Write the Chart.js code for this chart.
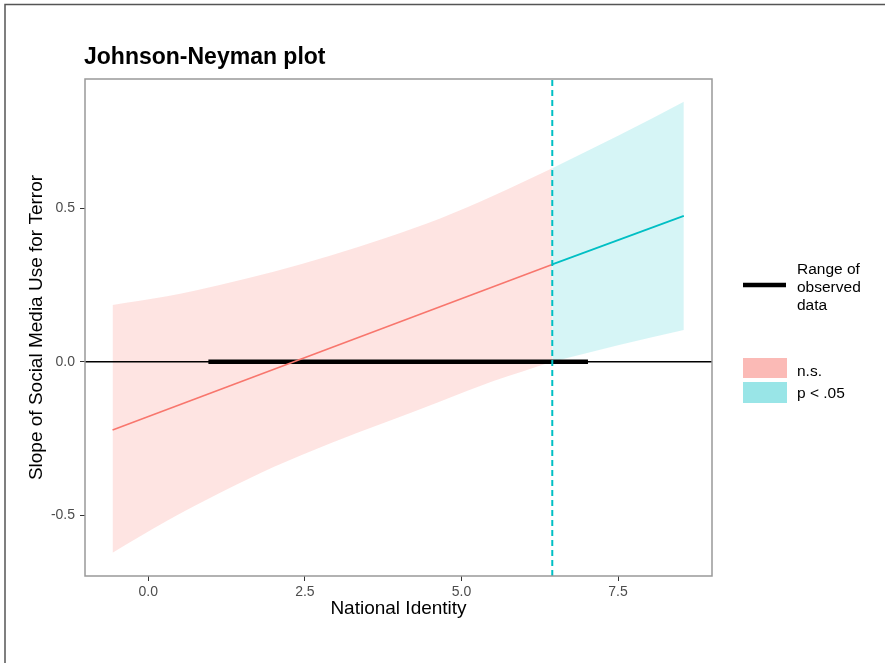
<!DOCTYPE html>
<html>
<head>
<meta charset="utf-8">
<script src="https://cdn.jsdelivr.net/npm/chart.js@4.4.1/dist/chart.umd.min.js"></script>
<style>
  body { margin: 0; background: #fff; }
  canvas { display: block; }
</style>
</head>
<body>
<canvas id="jn-chart" width="885" height="663"></canvas>
<script>
// Luettu kuvasta: luottamusvyö (n.s. -osa)
const pinkX     = [-0.57, 0.3, 1.14, 2.0, 2.9, 3.8, 4.65, 5.5, 6.45];
const pinkUpper = [0.185, 0.213, 0.250, 0.293, 0.345, 0.404, 0.466, 0.540, 0.630];
const pinkLower = [-0.622, -0.518, -0.428, -0.343, -0.266, -0.196, -0.130, -0.064, 0.0];

// p < .05 -osa
const tealX     = [6.45, 7.5, 8.55];
const tealUpper = [0.630, 0.736, 0.847];
const tealLower = [0.0, 0.054, 0.103];

// kulmakerroin (suora)
const slopeXPink = [-0.57, 6.45];
const slopePink  = [-0.222, 0.317];
const slopeXTeal = [6.45, 8.55];
const slopeTeal  = [0.317, 0.475];

const jnPoint = 6.45;             // Johnson-Neyman raja
const observedRange = [0.96, 7.02];

const xMin = -1.01, xMax = 9.0;
const yMin = -0.698, yMax = 0.921;
const xTicks = [0, 2.5, 5, 7.5];
const yTicks = [-0.5, 0, 0.5];

const chartTitle = "Johnson-Neyman plot";
const xTitle = "National Identity";
const yTitle = "Slope of Social Media Use for Terror";
const legendRangeLabel = ["Range of", "observed", "data"];
const legendFillLabels = ["n.s.", "p < .05"];

const RED = "#F8766D";
const TEAL = "#00BFC4";
const FONT = "'Liberation Sans', Arial, Helvetica, sans-serif";

function pts(xs, ys) {
    return xs.map((x, i) => ({ x: x, y: ys[i] }));
}

// otsikko, reunat ja selite piirretään itse
const extras = {
    id: "extras",
    afterDraw(chart) {
        const ctx = chart.ctx;
        const a = chart.chartArea;
        ctx.save();

        // kuvan reunaviivat (vasen + ylä)
        ctx.strokeStyle = "#555";
        ctx.lineWidth = 1.5;
        ctx.beginPath();
        ctx.moveTo(5, 663);
        ctx.lineTo(5, 4.5);
        ctx.lineTo(885, 4.5);
        ctx.stroke();

        // paneelin kehys
        ctx.strokeStyle = "#999";
        ctx.lineWidth = 1.5;
        ctx.strokeRect(a.left, a.top, a.right - a.left, a.bottom - a.top);

        // otsikko
        ctx.fillStyle = "#000";
        ctx.font = "bold 23px " + FONT;
        ctx.textBaseline = "alphabetic";
        ctx.textAlign = "left";
        ctx.fillText(chartTitle, 84, 64);

        // selite: havaintoalue
        ctx.strokeStyle = "#000";
        ctx.lineWidth = 4.5;
        ctx.beginPath();
        ctx.moveTo(743, 285);
        ctx.lineTo(786, 285);
        ctx.stroke();
        ctx.font = "15.5px " + FONT;
        legendRangeLabel.forEach((t, i) => ctx.fillText(t, 797, 274 + i * 18));

        // selite: täytöt
        ctx.fillStyle = "rgba(248,118,109,0.5)";
        ctx.fillRect(743, 358, 44, 20);
        ctx.fillStyle = "rgba(0,191,196,0.4)";
        ctx.fillRect(743, 382, 44, 21);
        ctx.fillStyle = "#000";
        ctx.fillText(legendFillLabels[0], 797, 376);
        ctx.fillText(legendFillLabels[1], 797, 398);

        ctx.restore();
    }
};

const ctx = document.getElementById("jn-chart").getContext("2d");

new Chart(ctx, {
    type: "scatter",
    data: {
        datasets: [
            { // pystysuora katkoviiva
                data: [{ x: jnPoint, y: yMin }, { x: jnPoint, y: yMax }],
                showLine: true, borderColor: TEAL, borderWidth: 2, borderDash: [6, 4],
                pointRadius: 0, order: 0
            },
            {
                data: pts(slopeXPink, slopePink),
                showLine: true, borderColor: RED, borderWidth: 1.6, pointRadius: 0, order: 1
            },
            {
                data: pts(slopeXTeal, slopeTeal),
                showLine: true, borderColor: TEAL, borderWidth: 1.8, pointRadius: 0, order: 1
            },
            { // havaintojen vaihteluväli
                data: [{ x: observedRange[0], y: 0 }, { x: observedRange[1], y: 0 }],
                showLine: true, borderColor: "#000", borderWidth: 4.5, borderCapStyle: "butt",
                pointRadius: 0, order: 2
            },
            { // nollaviiva
                data: [{ x: xMin, y: 0 }, { x: xMax, y: 0 }],
                showLine: true, borderColor: "#000", borderWidth: 1.5, pointRadius: 0, order: 3
            },
            {
                data: pts(pinkX, pinkUpper),
                showLine: true, borderWidth: 0, pointRadius: 0,
                cubicInterpolationMode: "monotone",
                fill: "+1", backgroundColor: "rgba(248,118,109,0.2)", order: 4
            },
            {
                data: pts(pinkX, pinkLower),
                showLine: true, borderWidth: 0, pointRadius: 0,
                cubicInterpolationMode: "monotone", order: 4
            },
            {
                data: pts(tealX, tealUpper),
                showLine: true, borderWidth: 0, pointRadius: 0,
                cubicInterpolationMode: "monotone",
                fill: "+1", backgroundColor: "rgba(0,191,196,0.16)", order: 5
            },
            {
                data: pts(tealX, tealLower),
                showLine: true, borderWidth: 0, pointRadius: 0,
                cubicInterpolationMode: "monotone", order: 5
            }
        ]
    },
    options: {
        responsive: false,
        animation: false,
        devicePixelRatio: 1,
        layout: { padding: { left: 0, top: 79, right: 173, bottom: 0 } },
        plugins: {
            legend: { display: false },
            tooltip: { enabled: false }
        },
        scales: {
            x: {
                type: "linear",
                min: xMin,
                max: xMax,
                afterBuildTicks: s => { s.ticks = xTicks.map(v => ({ value: v })); },
                afterFit: s => { s.height = 87; },
                grid: { display: true, drawOnChartArea: false, drawTicks: true, tickLength: 5, tickColor: "#333" },
                border: { display: false },
                ticks: {
                    color: "#4d4d4d",
                    padding: 3,
                    font: { family: FONT, size: 14 },
                    callback: v => v.toFixed(1)
                },
                title: {
                    display: true,
                    text: xTitle,
                    color: "#000",
                    font: { family: FONT, size: 19 },
                    padding: { top: 0, bottom: 43 }
                }
            },
            y: {
                type: "linear",
                min: yMin,
                max: yMax,
                afterBuildTicks: s => { s.ticks = yTicks.map(v => ({ value: v })); },
                afterFit: s => { s.width = 85; },
                grid: { display: true, drawOnChartArea: false, drawTicks: true, tickLength: 5, tickColor: "#333" },
                border: { display: false },
                ticks: {
                    color: "#4d4d4d",
                    padding: 5,
                    font: { family: FONT, size: 14 },
                    callback: v => v.toFixed(1)
                },
                title: {
                    display: true,
                    text: yTitle,
                    color: "#000",
                    font: { family: FONT, size: 19 },
                    padding: { top: 25, bottom: 0 }
                }
            }
        }
    },
    plugins: [extras]
});
</script>
</body>
</html>
